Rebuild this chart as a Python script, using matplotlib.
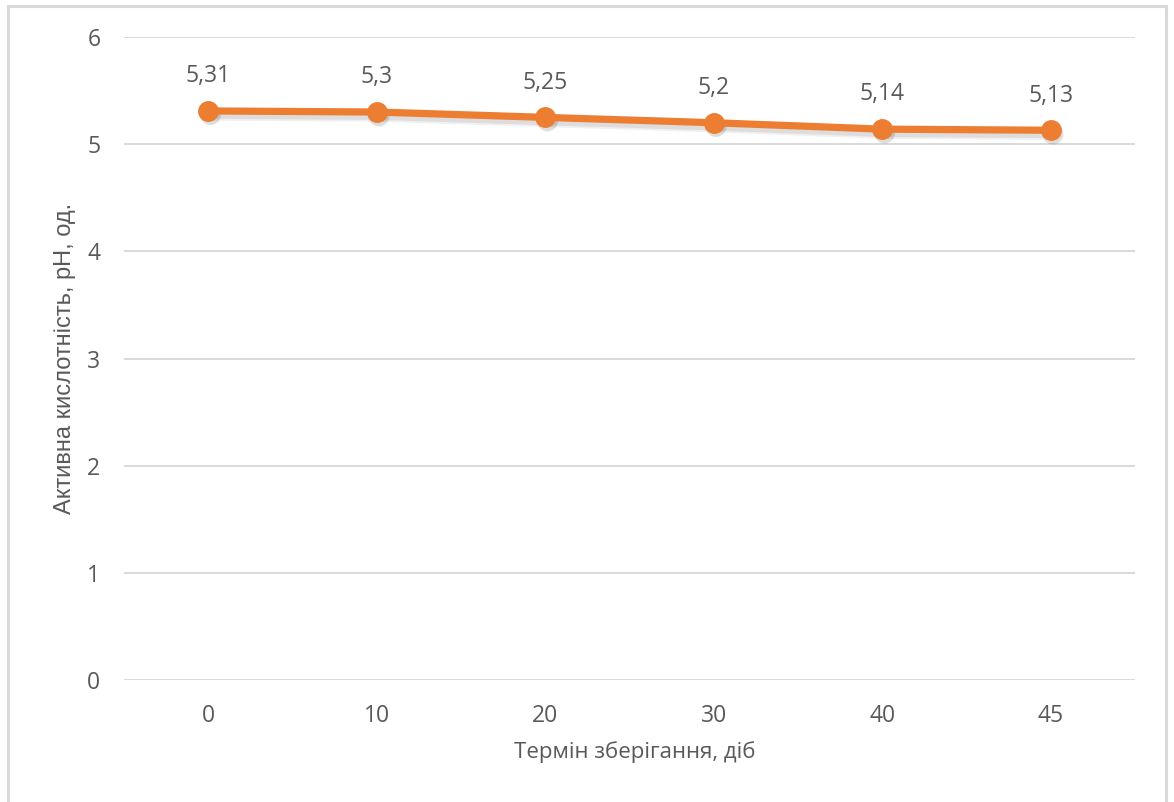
import matplotlib
matplotlib.use("Agg")
import matplotlib.pyplot as plt
from matplotlib.patches import Rectangle
from matplotlib.transforms import ScaledTranslation

# Storage time (days) and active acidity values
days = ["0", "10", "20", "30", "40", "45"]
ph_values = [5.31, 5.30, 5.25, 5.20, 5.14, 5.13]
ph_labels = ["5,31", "5,3", "5,25", "5,2", "5,14", "5,13"]
y_ticks = [0, 1, 2, 3, 4, 5, 6]

orange = "#ED7D31"
text_grey = "#595959"
grid_grey = "#D9D9D9"

fig = plt.figure(figsize=(11.74, 8.02), dpi=100)
fig.patch.set_facecolor("white")

# Chart-area frame
frame = Rectangle((8 / 1174, -0.05), (1166 - 8) / 1174, 1 + 0.05 - 6 / 802,
                  transform=fig.transFigure, fill=False,
                  edgecolor=grid_grey, linewidth=2.2, zorder=0)
fig.patches.append(frame)

ax = fig.add_axes([124 / 1174, 122 / 802, (1135 - 124) / 1174, (765 - 122) / 802])
ax.set_facecolor("none")

x = list(range(len(days)))

# soft drop shadow under the series
for dx, dy, a, lw in [(0.02, -0.035, 0.06, 9), (0.015, -0.03, 0.08, 7)]:
    shift = ax.transData + ScaledTranslation(dx, dy, fig.dpi_scale_trans)
    ax.plot(x, ph_values, color="black", alpha=a, linewidth=lw, marker="o",
            markersize=15, markeredgewidth=0, solid_capstyle="round",
            transform=shift, zorder=2)

ax.plot(x, ph_values, color=orange, linewidth=5.2, marker="o", markersize=14,
        markerfacecolor=orange, markeredgecolor=orange, solid_capstyle="round",
        zorder=3)

for xi, v, lab in zip(x, ph_values, ph_labels):
    ax.annotate(lab, (xi, v), xytext=(0, 25), textcoords="offset points",
                ha="center", va="center", fontsize=16.5, color=text_grey,
                family="Open Sans")

ax.set_xlim(-0.5, len(days) - 0.5)
ax.set_ylim(0, 6)
ax.set_xticks(x)
ax.set_xticklabels(days)
ax.set_yticks(y_ticks)
ax.set_yticklabels([str(t) for t in y_ticks])

for s in ax.spines.values():
    s.set_visible(False)
ax.tick_params(axis="both", length=0, labelsize=16.5, labelcolor=text_grey)
ax.tick_params(axis="x", pad=17)
ax.tick_params(axis="y", pad=17)
for lab in ax.get_xticklabels() + ax.get_yticklabels():
    lab.set_family("Open Sans")

ax.yaxis.grid(True, color=grid_grey, linewidth=1.4)
ax.set_axisbelow(True)

ax.set_xlabel("Термін зберігання, діб", fontsize=16, color=text_grey,
              family="Open Sans", labelpad=10)
ax.xaxis.label.set_x(0.505)
ax.set_ylabel("Активна кислотність, pH, од.", fontsize=17, color=text_grey,
              family="Liberation Sans", labelpad=8)

fig.savefig("out.png", dpi=100, facecolor="white")
